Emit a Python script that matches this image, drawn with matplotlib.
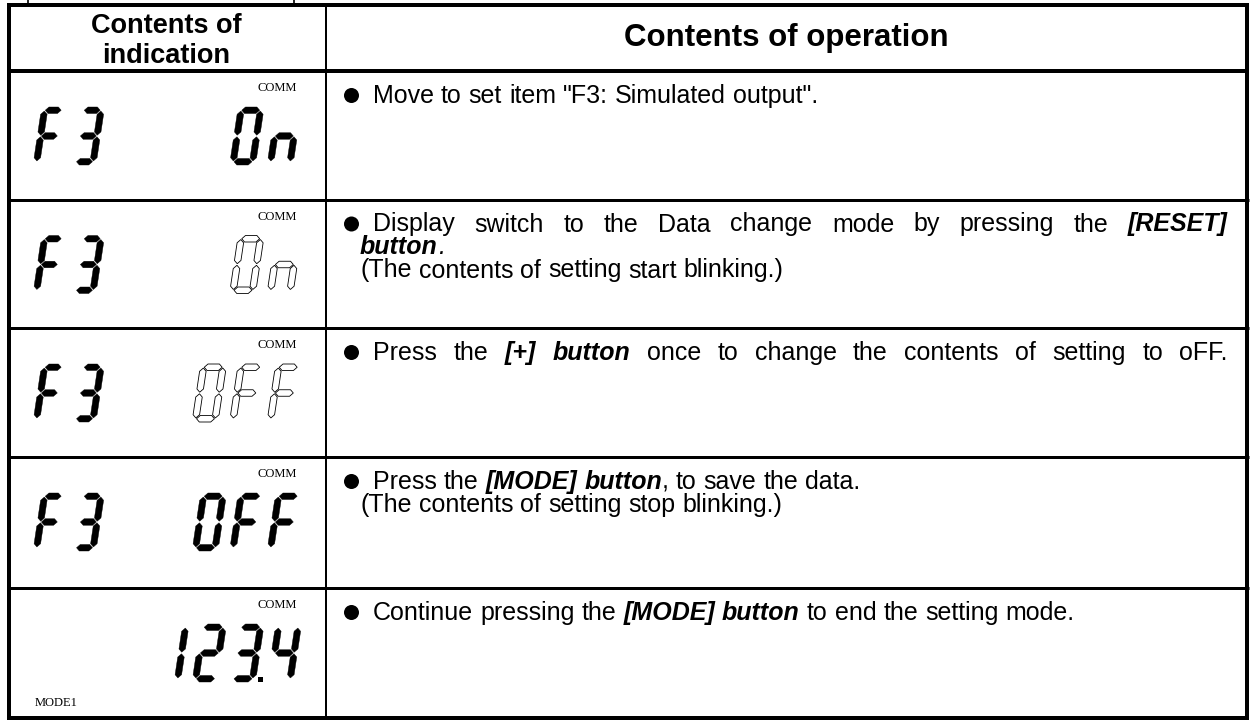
import matplotlib
matplotlib.use("Agg")
import matplotlib.pyplot as plt
from matplotlib.patches import Polygon, Rectangle, Circle

# ---- table content ----
headers = ["Contents of\nindication", "Contents of operation"]
left_text = ["F3", "F3", "F3", "F3", ""]
right_text = ["On", "On", "OFF", "OFF", "123.4"]
blink = [False, True, True, False, False]
comm_label = "COMM"
mode_label = ["", "", "", "", "MODE1"]

# each line is a list of (text, style): n normal, bi bold italic, i italic
ops = [
    [[("Move to set item \"F3: Simulated output\".", "n")]],
    [[("Display switch to the Data change mode by pressing the ", "n"), ("[RESET]", "bi")],
     [("button", "bi"), (".", "i")],
     [("(The contents of setting start blinking.)", "n")]],
    [[("Press the ", "n"), ("[+] button", "bi"), (" once to change the contents of setting to oFF.", "n")]],
    [[("Press the ", "n"), ("[MODE] button", "bi"), (", to save the data.", "n")],
     [("(The contents of setting stop blinking.)", "n")]],
    [[("Continue pressing the ", "n"), ("[MODE] button", "bi"), (" to end the setting mode.", "n")]],
]
justify = [[False], [True, False, False], [True], [False, False], [False]]

# seven segment map
SEGS = {"0": "abcdef", "O": "abcdef", "1": "bc", "2": "abdeg", "3": "abcdg",
        "4": "bcfg", "F": "aefg", "n": "ceg"}

# ---- layout (pixels) ----
W, H = 1250, 720
row_y = [5, 71, 199.5, 328, 457, 588, 718]
x_left, x_mid, x_right = 9, 326, 1247
FAM = ["Liberation Sans", "DejaVu Sans"]
FS = 18
PT = 0.72  # points per pixel at dpi 100

fig = plt.figure(figsize=(12.5, 7.2), dpi=100)
ax = fig.add_axes([0, 0, 1, 1])
ax.set_xlim(0, W)
ax.set_ylim(H, 0)
ax.axis("off")
renderer = fig.canvas.get_renderer()

STYLE = {"n": dict(weight="normal", style="normal"),
         "bi": dict(weight="bold", style="italic"),
         "i": dict(weight="normal", style="italic")}


def put(x, y, s, st):
    t = ax.text(x, y, s, fontsize=FS, family=FAM, va="baseline", ha="left", **STYLE[st])
    return t.get_window_extent(renderer).width


def text_w(s, st):
    t = ax.text(0, 0, s, fontsize=FS, family=FAM, **STYLE[st])
    w = t.get_window_extent(renderer).width
    t.remove()
    return w


space_w = text_w("a a", "n") - text_w("aa", "n")


def draw_line(x, y, segs, right=None):
    words = [[]]
    for s, st in segs:
        for i, p in enumerate(s.split(" ")):
            if i > 0:
                words.append([])
            if p:
                words[-1].append((p, st))
    words = [w for w in words if w]
    gap = space_w
    if right is not None and len(words) > 1:
        total = sum(text_w(p, st) for w in words for p, st in w)
        gap = (right - x - total) / (len(words) - 1)
    for w in words:
        for p, st in w:
            x += put(x, y, p, st)
        x += gap


def seg_poly(k, w, h, t, gap=0.8):
    ht = t / 2
    if k in "adg":
        y = {"a": h - ht, "d": ht, "g": h / 2}[k]
        x1, x2 = ht + gap, w - ht - gap
        return [(x1, y), (x1 + ht, y + ht), (x2 - ht, y + ht), (x2, y),
                (x2 - ht, y - ht), (x1 + ht, y - ht)]
    x = w - ht if k in "bc" else ht
    if k in "bf":
        y1, y2 = h / 2 + gap, h - ht - gap
    else:
        y1, y2 = ht + gap, h / 2 - gap
    return [(x, y1), (x + ht, y1 + ht), (x + ht, y2 - ht), (x, y2),
            (x - ht, y2 - ht), (x - ht, y1 + ht)]


def draw_digit(x0, yb, ch, dp=False, hollow=False, w=25, h=58, t=6.5, slant=0.15):
    for k in SEGS.get(ch, ""):
        pts = [(x0 + x + slant * y, yb - y) for x, y in seg_poly(k, w, h, t)]
        ax.add_patch(Polygon(pts, closed=True, fc="white" if hollow else "black",
                             ec="black", lw=0.6 if hollow else 0.3))
    if dp:
        ax.add_patch(Rectangle((x0 + w + 2, yb - 5), 5, 5, fc="black", ec="none"))


# ---- grid ----
ax.plot([28, 28], [0, 4], color="black", lw=1.2)
ax.plot([294, 294], [0, 4], color="black", lw=1.2)
for i, y in enumerate(row_y):
    lw = 4 if i in (0, 1, len(row_y) - 1) else 3
    ax.plot([x_left - 2, x_right + 2], [y, y], color="black", lw=lw * PT, solid_capstyle="butt")
ax.plot([x_left, x_left], [row_y[0], row_y[-1]], color="black", lw=4 * PT)
ax.plot([x_right, x_right], [row_y[0], row_y[-1]], color="black", lw=4 * PT)
ax.plot([x_mid, x_mid], [row_y[0], row_y[-1]], color="black", lw=2 * PT)

# ---- header ----
h1, h2 = headers[0].split("\n")
ax.text(166, 33, h1, fontsize=19.5, weight="bold", family=FAM, ha="center", va="baseline")
ax.text(166, 63, h2, fontsize=19.5, weight="bold", family=FAM, ha="center", va="baseline")
ax.text(786, 46, headers[1], fontsize=22.5, weight="bold", family=FAM, ha="center", va="baseline")

# ---- rows ----
left_slots = [33, 72]
right_slots = [154.5, 192, 229.5, 267]
for r in range(5):
    top = row_y[r + 1]
    yb = top + 94
    for i, ch in enumerate(left_text[r]):
        draw_digit(left_slots[i], yb, ch, w=24)
    chars = []
    for c in right_text[r]:
        if c == ".":
            chars[-1] = (chars[-1][0], True)
        else:
            chars.append((c, False))
    start = len(right_slots) - len(chars)
    for i, (c, dp) in enumerate(chars):
        draw_digit(right_slots[start + i], yb, c, dp=dp, hollow=blink[r], w=26)
    ax.text(297, top + 17, comm_label, fontsize=9, family="Liberation Serif",
            ha="right", va="center")
    if mode_label[r]:
        ax.text(35, top + 115, mode_label[r], fontsize=9, family="Liberation Serif",
                ha="left", va="center")

    # operation text
    y = top + 32
    ax.add_patch(Circle((351.5, y - 7.5), 7.5, fc="black", ec="none"))
    for j, line in enumerate(ops[r]):
        x0 = 373 if j == 0 else 360
        draw_line(x0, y, line, right=1228 if justify[r][j] else None)
        y += 23

fig.savefig("out.png", dpi=100)
